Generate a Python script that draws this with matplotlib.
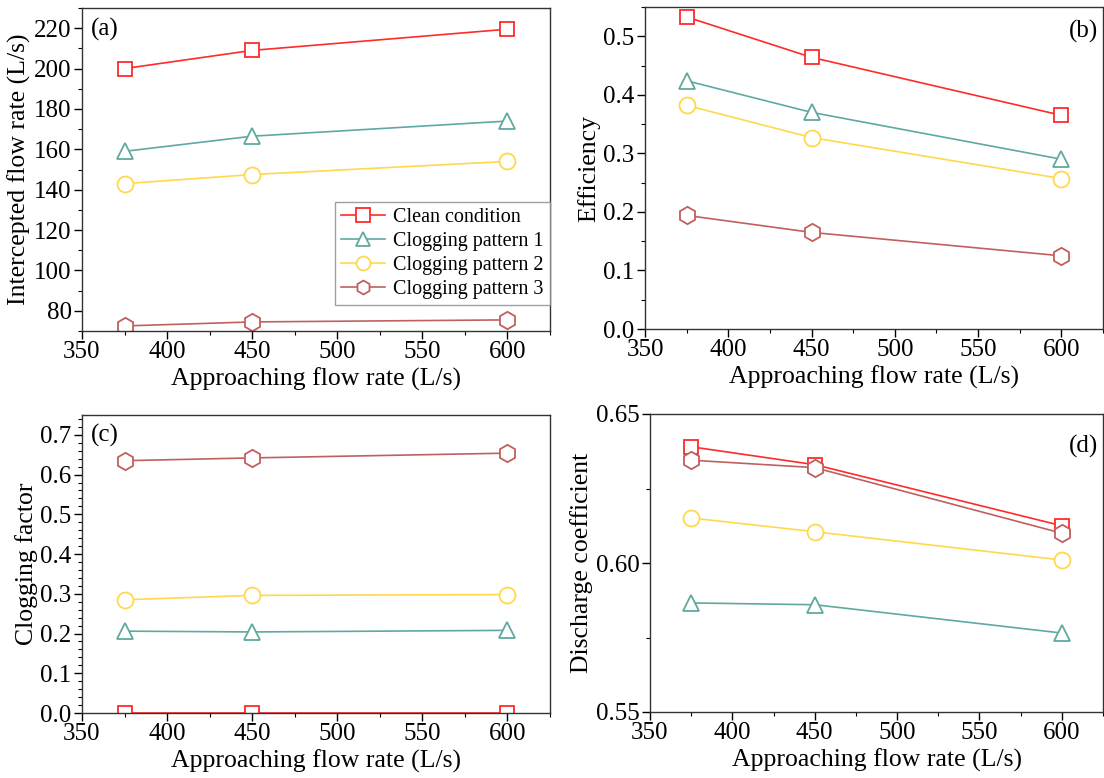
import matplotlib
matplotlib.use("Agg")
import matplotlib.pyplot as plt
from matplotlib.ticker import MultipleLocator, FormatStrFormatter

plt.rcParams['font.family'] = ['Liberation Serif', 'DejaVu Serif']

# approaching flow rates (L/s)
flow = [375, 450, 600]

series_names = ["Clean condition", "Clogging pattern 1", "Clogging pattern 2", "Clogging pattern 3"]

# (a) intercepted flow rate (L/s)
q_clean = [200.0, 209.0, 219.5]
q_p1 = [159.0, 166.5, 174.0]
q_p2 = [143.0, 147.5, 154.0]
q_p3 = [72.5, 74.5, 75.5]

# (b) efficiency
e_clean = [0.533, 0.464, 0.365]
e_p1 = [0.424, 0.370, 0.290]
e_p2 = [0.382, 0.327, 0.257]
e_p3 = [0.194, 0.165, 0.125]

# (c) clogging factor
c_clean = [0.0, 0.0, 0.0]
c_p1 = [0.206, 0.204, 0.208]
c_p2 = [0.285, 0.296, 0.298]
c_p3 = [0.635, 0.642, 0.654]

# (d) discharge coefficient
d_clean = [0.6390, 0.6330, 0.6125]
d_p1 = [0.5866, 0.5860, 0.5765]
d_p2 = [0.6151, 0.6105, 0.6010]
d_p3 = [0.6345, 0.6320, 0.6100]

colors = ["#ff2a2a", "#5fa9a0", "#ffd84d", "#c0605e"]
markers = ["s", "^", "o", "h"]
msizes = [10.5, 11.5, 11.5, 12.5]

fig = plt.figure(figsize=(11.04, 7.78), dpi=100)
W, H = 1104, 778
def add_ax(l, t, r, b):
    return fig.add_axes([l / W, 1 - b / H, (r - l) / W, (b - t) / H])

axa = add_ax(82, 8, 550, 331)
axb = add_ax(645, 7, 1103, 329)
axc = add_ax(82, 415, 550, 713)
axd = add_ax(650, 414, 1103, 712)

panels = [
    (axa, [q_clean, q_p1, q_p2, q_p3], "Intercepted flow rate (L/s)", (70, 230), 20, 10, "(a)", (0.02, 0.97), "left"),
    (axb, [e_clean, e_p1, e_p2, e_p3], "Efficiency", (0, 0.55), 0.1, 0.05, "(b)", (0.99, 0.96), "right"),
    (axc, [c_clean, c_p1, c_p2, c_p3], "Clogging factor", (0, 0.75), 0.1, 0.02, "(c)", (0.02, 0.97), "left"),
    (axd, [d_clean, d_p1, d_p2, d_p3], "Discharge coefficient", (0.55, 0.65), 0.05, 0.025, "(d)", (0.99, 0.93), "right"),
]

for ax, data, ylab, ylim, major, minor, tag, tpos, ha in panels:
    for vals, col, mk, ms, name in zip(data, colors, markers, msizes, series_names):
        ax.plot(flow, vals, color=col, lw=1.2, marker=mk, ms=ms,
                mfc="white", mec=col, mew=1.3, label=name)
    ax.set_xlim(350, 625)
    ax.set_ylim(*ylim)
    ax.xaxis.set_major_locator(MultipleLocator(50))
    ax.xaxis.set_minor_locator(MultipleLocator(25))
    ax.yaxis.set_major_locator(MultipleLocator(major))
    ax.yaxis.set_minor_locator(MultipleLocator(minor))
    ax.tick_params(which="both", direction="out", top=False, right=False, labelsize=18, pad=1.5)
    ax.tick_params(which="major", length=6, width=1)
    ax.tick_params(which="minor", length=3, width=0.8)
    for s in ax.spines.values():
        s.set_linewidth(1.0)
        s.set_color("#333333")
    ax.set_xlabel("Approaching flow rate (L/s)", fontsize=18.5, labelpad=3)
    ax.set_ylabel(ylab, fontsize=18.5, labelpad=2)
    ax.text(tpos[0], tpos[1], tag, transform=ax.transAxes, ha=ha, va="top", fontsize=18)

axb.yaxis.set_major_formatter(FormatStrFormatter("%.1f"))
axc.yaxis.set_major_formatter(FormatStrFormatter("%.1f"))
axd.yaxis.set_major_formatter(FormatStrFormatter("%.2f"))

leg = axa.legend(loc="lower right", bbox_to_anchor=(1.0, 0.08), fontsize=14.5,
                 frameon=True, fancybox=False, borderpad=0.3, labelspacing=0.25,
                 handlelength=2.2, handletextpad=0.4, borderaxespad=0.0)
leg.get_frame().set_edgecolor("#888888")
leg.get_frame().set_linewidth(1.0)
for h in leg.legend_handles:
    h.set_markersize(10)

fig.savefig("out.png", dpi=100)
